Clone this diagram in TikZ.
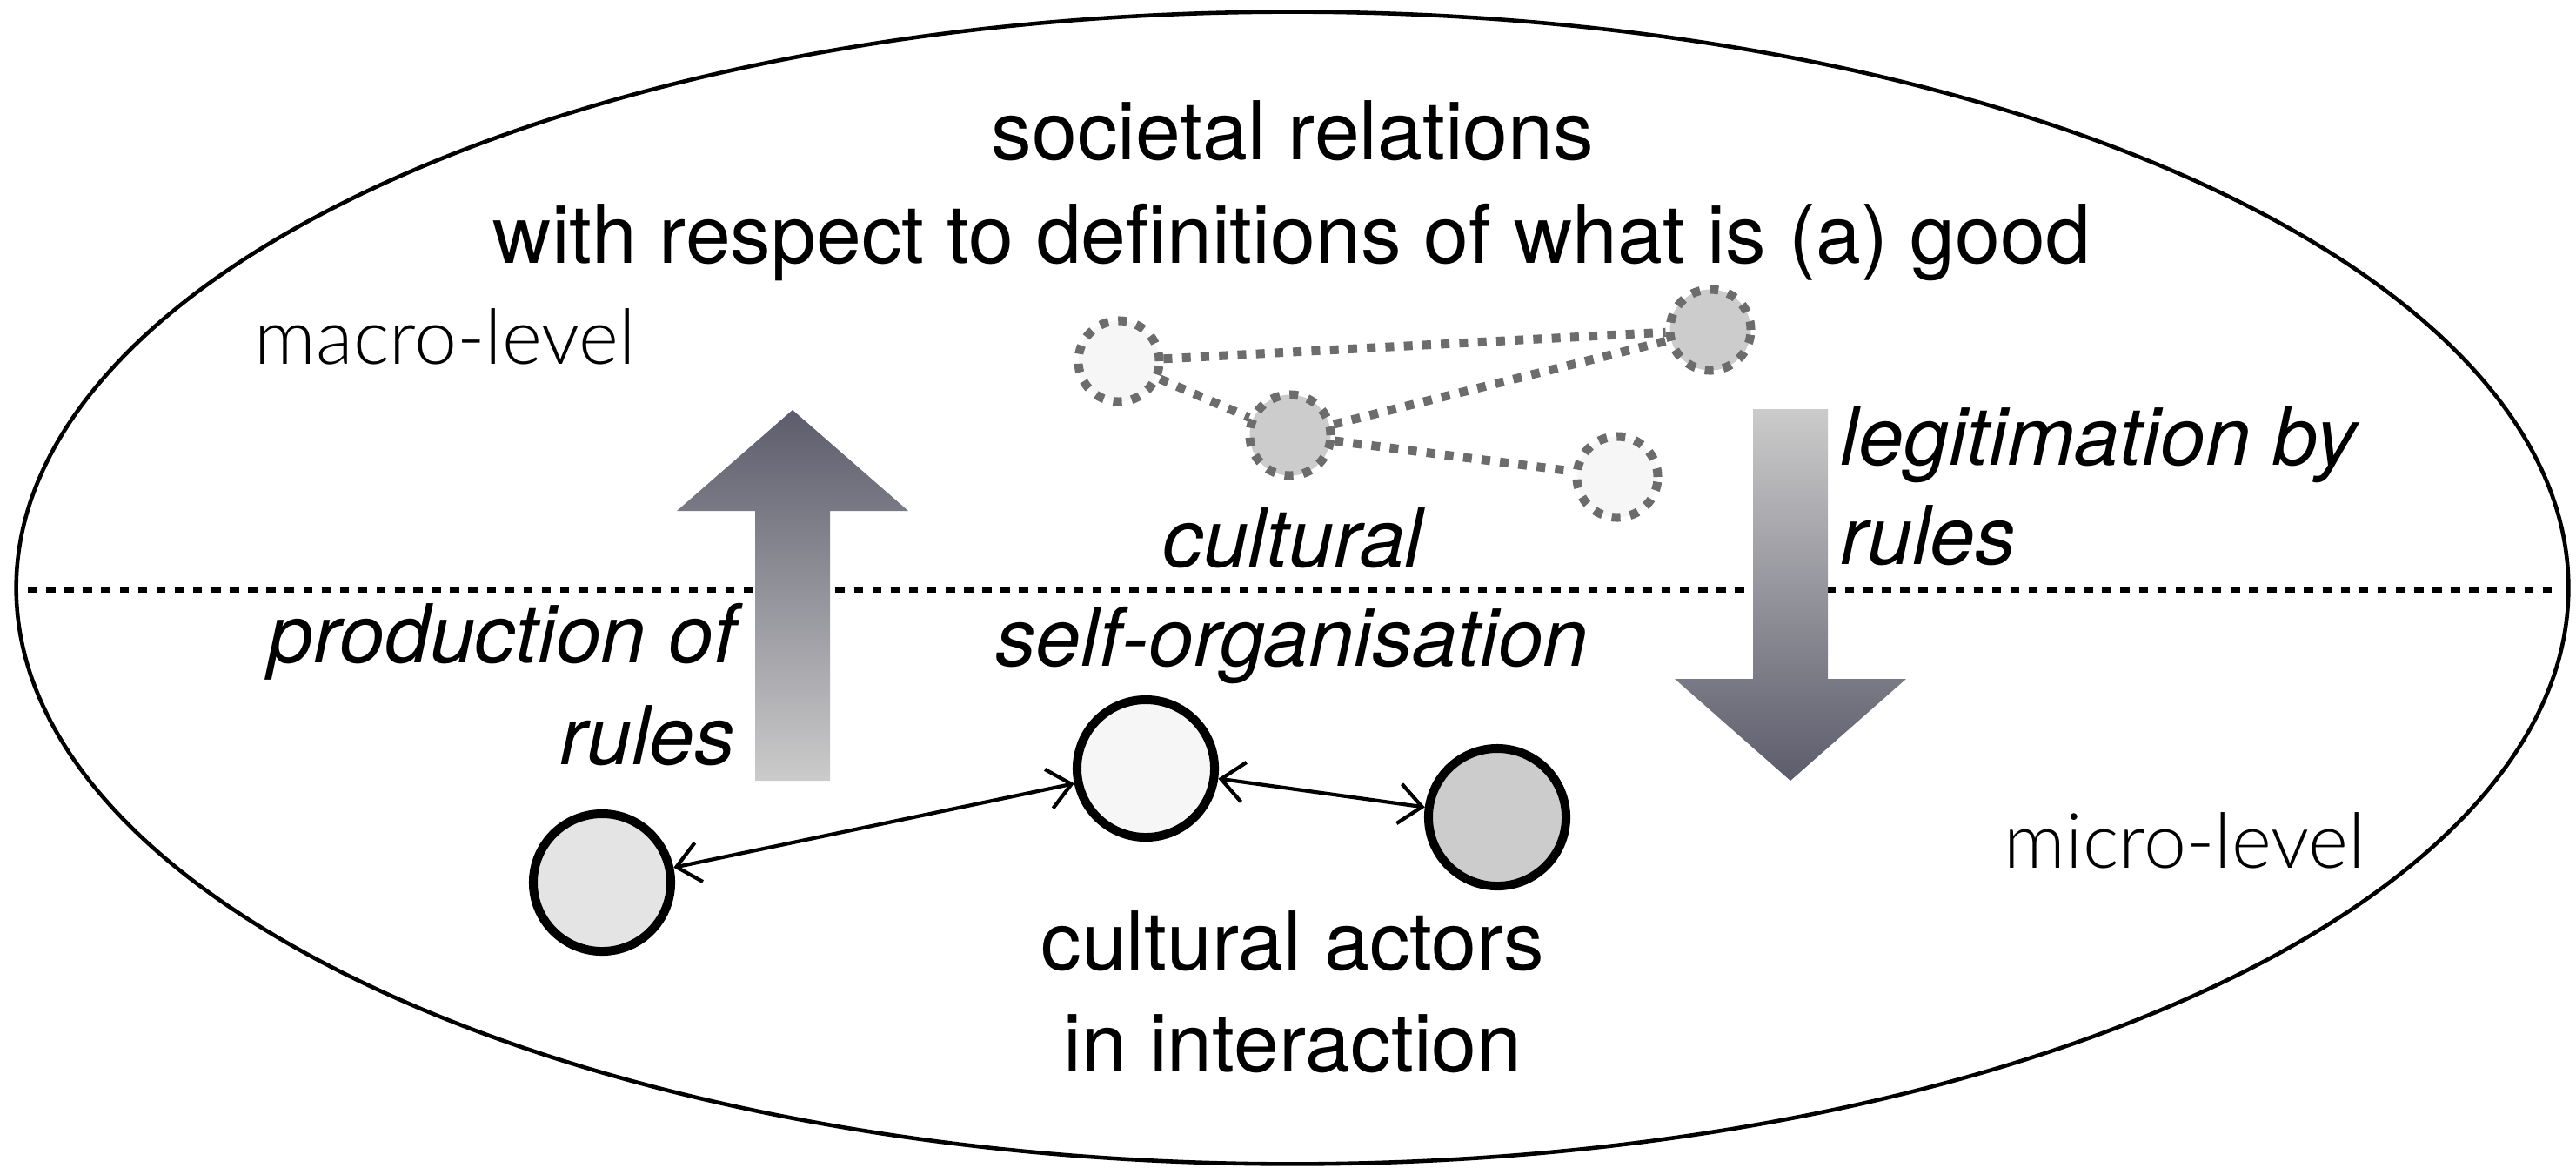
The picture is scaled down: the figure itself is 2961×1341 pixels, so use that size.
\documentclass[tikz,border=0pt]{standalone}
\usepackage{fontspec}
\setmainfont{TeX Gyre Heros}
\newfontfamily\lightfont{Lato Light}
\usetikzlibrary{arrows.meta}
\definecolor{arrdark}{RGB}{92,92,108}
\definecolor{arrlight}{RGB}{203,203,203}
\definecolor{dashgray}{RGB}{108,108,108}
\definecolor{palefill}{RGB}{246,246,246}
\definecolor{midfill}{RGB}{204,204,204}
\definecolor{leftfill}{RGB}{228,228,228}
\begin{document}
\begin{tikzpicture}[x=0.01cm,y=-0.01cm,
  lbl/.style={font=\fontsize{26.5}{32}\selectfont, inner sep=0},
  ilbl/.style={font=\fontsize{26.5}{32}\selectfont\itshape, inner sep=0},
  lvl/.style={font=\lightfont\fontsize{25}{30}\selectfont, inner sep=0},
  actor/.style={circle, draw=black, line width=2.85pt, minimum size=1.58cm, inner sep=0},
  ghost/.style={circle, draw=dashgray, line width=2.85pt, dash pattern=on 2.85pt off 3.2pt, minimum size=0.93cm, inner sep=0},
  link/.style={draw=dashgray, line width=2.85pt, dash pattern=on 2.85pt off 3.2pt},
  rel/.style={line width=1.2pt, {Straight Barb[length=7.5pt,width=13pt]}-{Straight Barb[length=7.5pt,width=13pt]}},
  blockarrow/.style={draw=none}
]
\useasboundingbox (0,0) rectangle (2961,1341);
% outer ellipse and level divider
\draw[line width=1.3pt] (1485.5,675.5) ellipse [x radius=14.66cm, y radius=6.615cm];
\draw[line width=1.7pt, dash pattern=on 3pt off 3pt] (32,678) -- (2943,678);
% block arrows
\shade[blockarrow, top color=arrdark, bottom color=arrlight]
  (868,897) -- (868,587) -- (778,587) -- (911,471) -- (1044,587) -- (954,587) -- (954,897) -- cycle;
\shade[blockarrow, top color=arrlight, bottom color=arrdark]
  (2015,470) -- (2101,470) -- (2101,780) -- (2191,780) -- (2058,897) -- (1925,780) -- (2015,780) -- cycle;
% macro-level dashed circles
\node[ghost, fill=palefill] (g1) at (1286,415) {};
\node[ghost, fill=midfill] (g2) at (1483,500) {};
\node[ghost, fill=midfill] (g3) at (1966,379) {};
\node[ghost, fill=palefill] (g4) at (1859,548) {};
\draw[link] (g1) -- (g3);
\draw[link] (g1) -- (g2);
\draw[link] (g2) -- (g3);
\draw[link] (g2) -- (g4);
% actors
\node[actor, fill=leftfill] (a1) at (692,1014) {};
\node[actor, fill=palefill] (a2) at (1317,883) {};
\node[actor, fill=midfill] (a3) at (1721,939) {};
\draw[rel] (a1) -- (a2);
\draw[rel] (a2) -- (a3);
% texts
\node[lbl, anchor=base] (t1) at (1486,183) {societal relations};
\node[lbl, anchor=base] (t2) at (1485,302) {with respect to definitions of what is (a) good};
\node[lvl, anchor=base west] (macro) at (292,418) {macro-level};
\node[lvl, anchor=base west] (micro) at (2303,997) {micro-level};
\node[ilbl, anchor=base] (cult) at (1486,651) {cultural};
\node[ilbl, anchor=base] (selforg) at (1485,765) {self-organisation};
\node[ilbl, anchor=base east] (prod1) at (847,761) {production of};
\node[ilbl, anchor=base east] (prod2) at (846,878) {rules};
\node[ilbl, anchor=base west] (leg1) at (2115,534) {legitimation by};
\node[ilbl, anchor=base west] (leg2) at (2115,648) {rules};
\node[lbl, anchor=base] (act1) at (1486,1114) {cultural actors};
\node[lbl, anchor=base] (act2) at (1486,1231) {in interaction};
\end{tikzpicture}
\end{document}
